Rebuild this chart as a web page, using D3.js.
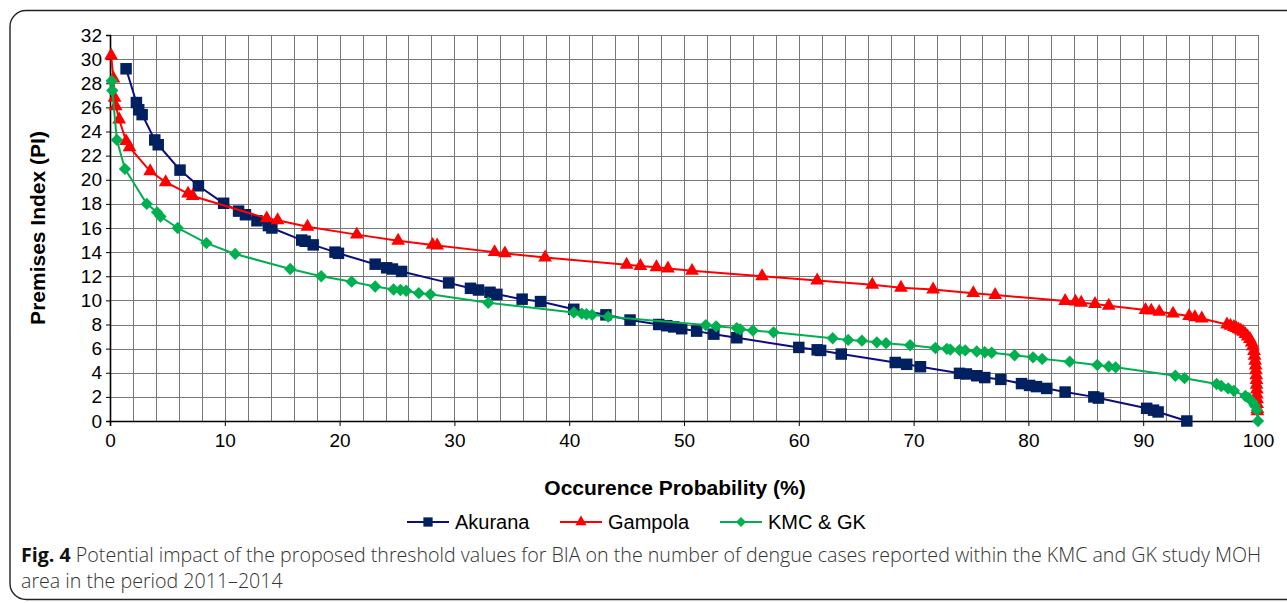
<!DOCTYPE html>
<html>
<head>
<meta charset="utf-8">
<script src="https://cdn.jsdelivr.net/npm/d3@7"></script>
<style>
  html, body { margin: 0; padding: 0; background: #fff; }
  svg { display: block; }
</style>
</head>
<body>
<svg id="chart" width="1287" height="603"></svg>
<script>
// ---- data ----
const xTickValues = [0, 10, 20, 30, 40, 50, 60, 70, 80, 90, 100];
const yTickValues = [0, 2, 4, 6, 8, 10, 12, 14, 16, 18, 20, 22, 24, 26, 28, 30, 32];
const seriesNames = ["Akurana", "Gampola", "KMC & GK"];

const akurana = [
  [1.4, 29.2], [2.3, 26.4], [2.5, 25.8], [2.8, 25.4], [3.9, 23.3], [4.2, 22.9],
  [6.1, 20.8], [7.7, 19.5], [9.9, 18.05], [11.2, 17.4], [11.8, 17.1], [12.8, 16.6],
  [13.8, 16.2], [14.1, 16.0], [16.7, 15.0], [17.0, 14.9], [17.7, 14.6], [19.6, 14.0],
  [19.9, 13.9], [23.1, 13.0], [24.1, 12.7], [24.6, 12.6], [25.4, 12.4], [29.5, 11.45],
  [31.4, 11.0], [32.1, 10.86], [33.1, 10.67], [33.7, 10.5], [35.9, 10.1], [37.5, 9.9],
  [40.4, 9.26], [43.2, 8.8], [45.3, 8.37], [47.8, 8.0], [48.5, 7.9], [49.1, 7.8],
  [49.8, 7.65], [51.1, 7.45], [52.6, 7.2], [54.6, 6.9], [60.0, 6.1], [61.6, 5.9],
  [61.9, 5.85], [63.7, 5.55], [68.4, 4.85], [69.4, 4.7], [70.6, 4.5], [74.0, 3.95],
  [74.6, 3.9], [75.5, 3.75], [76.2, 3.6], [77.6, 3.45], [79.4, 3.1], [80.1, 2.95],
  [80.7, 2.85], [81.6, 2.7], [83.2, 2.4], [85.7, 2.0], [86.1, 1.9], [90.3, 1.05],
  [90.9, 0.9], [91.3, 0.75], [93.8, 0.0]
];

const gampola = [
  [0.1, 30.3], [0.3, 28.4], [0.4, 26.8], [0.5, 26.1], [0.8, 25.0], [1.4, 23.2],
  [1.7, 22.7], [3.5, 20.7], [4.85, 19.8], [6.8, 18.85], [7.2, 18.65], [13.65, 16.8],
  [14.6, 16.65], [17.2, 16.1], [21.5, 15.45], [25.1, 14.95], [28.1, 14.6], [28.5, 14.55],
  [33.5, 14.0], [34.4, 13.9], [37.9, 13.55], [45.0, 12.95], [46.2, 12.85], [47.6, 12.75],
  [48.6, 12.65], [50.7, 12.45], [56.8, 12.0], [61.6, 11.65], [66.4, 11.3], [68.9, 11.05],
  [71.7, 10.9], [75.2, 10.6], [77.1, 10.45], [83.2, 9.95], [84.1, 9.9], [84.6, 9.8],
  [85.8, 9.7], [87.0, 9.55], [90.2, 9.2], [90.7, 9.15], [91.4, 9.05], [92.6, 8.9],
  [94.0, 8.7], [94.5, 8.6], [95.1, 8.5], [97.3, 8.0], [97.6, 7.9], [97.9, 7.8],
  [98.1, 7.7], [98.3, 7.6], [98.5, 7.5], [98.7, 7.4], [98.9, 7.2], [99.1, 7.0],
  [99.3, 6.8], [99.45, 6.5], [99.55, 6.2], [99.65, 5.8], [99.7, 5.4], [99.75, 5.0],
  [99.8, 4.6], [99.82, 4.2], [99.85, 3.8], [99.87, 3.4], [99.88, 3.0], [99.9, 2.6],
  [99.9, 2.2], [99.92, 1.8], [99.93, 1.4], [99.95, 1.0], [99.95, 0.8]
];

const kmcgk = [
  [0.15, 28.2], [0.2, 27.4], [0.6, 23.3], [1.3, 20.9], [3.2, 18.0], [4.1, 17.3],
  [4.4, 16.95], [5.9, 16.0], [8.4, 14.75], [10.9, 13.85], [15.7, 12.6], [18.4, 12.0],
  [21.05, 11.55], [23.1, 11.15], [24.7, 10.9], [25.3, 10.86], [25.8, 10.8], [26.9, 10.6],
  [27.9, 10.5], [32.95, 9.8], [40.4, 9.0], [41.1, 8.9], [41.5, 8.85], [42.0, 8.8],
  [43.4, 8.65], [51.9, 7.95], [52.8, 7.85], [54.6, 7.7], [54.9, 7.6], [56.0, 7.5],
  [57.8, 7.35], [62.95, 6.86], [64.3, 6.72], [65.5, 6.66], [66.8, 6.52], [67.6, 6.45],
  [69.7, 6.28], [71.9, 6.05], [72.9, 5.98], [73.2, 5.92], [74.0, 5.88], [74.5, 5.85],
  [75.5, 5.76], [76.2, 5.7], [76.8, 5.66], [78.8, 5.45], [80.4, 5.28], [81.2, 5.15],
  [83.6, 4.92], [86.0, 4.65], [87.0, 4.52], [87.6, 4.45], [92.8, 3.75], [93.6, 3.55],
  [96.4, 3.07], [96.8, 2.9], [97.4, 2.7], [97.9, 2.5], [98.9, 2.07], [99.2, 1.9],
  [99.5, 1.6], [99.7, 1.3], [99.9, 0.9], [100.0, 0.0]
];

// ---- layout ----
const svg = d3.select("#chart");
const x = d3.scaleLinear().domain([0, 100]).range([110, 1258]);
const y = d3.scaleLinear().domain([0, 32]).range([421, 35]);

// outer frame
svg.append("rect")
  .attr("x", 10).attr("y", 10.5).attr("width", 1320).attr("height", 589)
  .attr("rx", 16).attr("ry", 16)
  .attr("fill", "none").attr("stroke", "#222").attr("stroke-width", 1.4);

// gridlines
const grid = svg.append("g");
grid.selectAll("line.v").data(d3.range(2, 101, 2)).join("line")
  .attr("x1", d => Math.round(x(d)) + 0.5).attr("x2", d => Math.round(x(d)) + 0.5)
  .attr("y1", y(32)).attr("y2", y(0))
  .attr("stroke", "#777").attr("stroke-width", 1);
grid.selectAll("line.h").data(d3.range(2, 33, 2)).join("line")
  .attr("y1", d => Math.round(y(d)) + 0.5).attr("y2", d => Math.round(y(d)) + 0.5)
  .attr("x1", x(0)).attr("x2", x(100))
  .attr("stroke", "#777").attr("stroke-width", 1);

// axes
const xAxis = d3.axisBottom(x).tickValues(xTickValues).tickSize(5).tickPadding(5).tickFormat(d3.format("d"));
const yAxis = d3.axisLeft(y).tickValues(yTickValues).tickSize(4).tickPadding(4).tickFormat(d3.format("d"));

const gx = svg.append("g").attr("transform", `translate(0,${y(0)})`).call(xAxis);
const gy = svg.append("g").attr("transform", `translate(${x(0)},0)`).call(yAxis);
[gx, gy].forEach(g => {
  g.select(".domain").attr("stroke", "#000").attr("stroke-width", 1.6);
  g.selectAll(".tick line").attr("stroke", "#000");
  g.selectAll(".tick text").attr("fill", "#000")
    .style("font-family", "Arial, 'Liberation Sans', sans-serif").style("font-size", "19px");
});
gx.selectAll(".tick text").attr("dy", "0.85em");

// axis titles
svg.append("text")
  .attr("x", 675).attr("y", 495).attr("text-anchor", "middle")
  .style("font-family", "Arial, 'Liberation Sans', sans-serif")
  .style("font-size", "21px").style("font-weight", "bold")
  .text("Occurence Probability (%)");
svg.append("text")
  .attr("transform", "translate(45,228) rotate(-90)").attr("text-anchor", "middle")
  .style("font-family", "Arial, 'Liberation Sans', sans-serif")
  .style("font-size", "21px").style("font-weight", "bold")
  .text("Premises Index (PI)");

// series
const styles = [
  { data: akurana, line: "#0c0c84", fill: "#002060", sym: d3.symbolSquare, size: 132, rot: 0 },
  { data: gampola, line: "#ff0000", fill: "#ff0000", sym: d3.symbolTriangle, size: 82, rot: 0 },
  { data: kmcgk,  line: "#00b050", fill: "#00b050", sym: d3.symbolSquare, size: 76, rot: 45 }
];
const lineGen = d3.line().x(d => x(d[0])).y(d => y(d[1]));

styles.forEach((s, i) => {
  const g = svg.append("g").attr("class", "series-" + i);
  g.append("path").attr("d", lineGen(s.data))
    .attr("fill", "none").attr("stroke", s.line).attr("stroke-width", 2);
  g.selectAll("path.m").data(s.data).join("path")
    .attr("class", "m")
    .attr("d", d3.symbol().type(s.sym).size(s.size))
    .attr("transform", d => `translate(${x(d[0])},${y(d[1])}) rotate(${s.rot})`)
    .attr("fill", s.fill).attr("stroke", "none");
});

// legend
const legendX = [407, 560, 720];
const legend = svg.append("g");
styles.forEach((s, i) => {
  const lg = legend.append("g").attr("transform", `translate(${legendX[i]},522)`);
  lg.append("line").attr("x1", 0).attr("x2", 42).attr("y1", 0).attr("y2", 0)
    .attr("stroke", s.line).attr("stroke-width", 2);
  lg.append("path").attr("d", d3.symbol().type(s.sym).size(s.size * 0.65))
    .attr("transform", `translate(21,0) rotate(${s.rot})`).attr("fill", s.fill);
  lg.append("text").attr("x", 48).attr("y", 7)
    .style("font-family", "Arial, 'Liberation Sans', sans-serif").style("font-size", "20px")
    .attr("fill", "#000").text(seriesNames[i]);
});

// caption
const cap = svg.append("text").attr("x", 21).attr("y", 562)
  .style("font-family", "'Open Sans', sans-serif").style("font-size", "18px")
  .style("font-weight", "300").attr("fill", "#333");
cap.append("tspan").style("font-weight", "bold").attr("fill", "#111").text("Fig. 4");
cap.append("tspan").text(" Potential impact of the proposed threshold values for BIA on the number of dengue cases reported within the KMC and GK study MOH");
const cap2 = svg.append("text").attr("x", 21).attr("y", 588)
  .style("font-family", "'Open Sans', sans-serif").style("font-size", "18px")
  .style("font-weight", "300").attr("fill", "#333")
  .text("area in the period 2011–2014");
// fit caption width to reference span
const w = cap.node().getComputedTextLength();
const target = 1241;
const fs = 18 * target / w;
cap.style("font-size", fs + "px");
cap2.style("font-size", fs + "px");
</script>
</body>
</html>
